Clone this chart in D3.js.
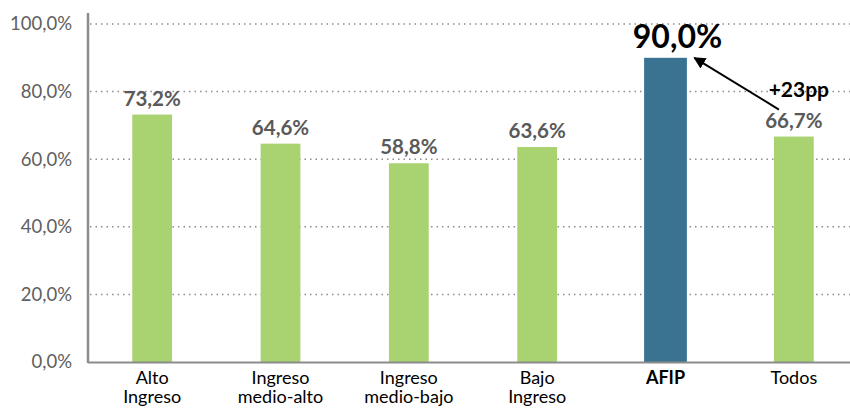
<!DOCTYPE html>
<html>
<head>
    <script src="https://d3js.org/d3.v7.min.js"></script>
    <style>
        body { margin: 0; background: #fff; }
        svg { font-family: 'Lato', 'Open Sans', sans-serif; }
    </style>
</head>
<body>
    <script>
        // data
        const categories = [["Alto", "Ingreso"], ["Ingreso", "medio-alto"], ["Ingreso", "medio-bajo"],
            ["Bajo", "Ingreso"], ["AFIP"], ["Todos"]];
        const values = [73.2, 64.6, 58.8, 63.6, 90.0, 66.7];
        const highlight = [false, false, false, false, true, false];
        const yTicks = [0, 20, 40, 60, 80, 100];
        const annotation = "+23pp";

        const width = 850, height = 410;
        const margin = {top: 24, right: -8, bottom: 48, left: 88};

        const fmt = v => v.toFixed(1).replace('.', ',') + '%';

        const svg = d3.select('body').append('svg')
            .attr('width', width)
            .attr('height', height);

        const x = d3.scaleBand()
            .domain(d3.range(values.length))
            .range([margin.left, width - margin.right])
            .paddingInner(0.69)
            .paddingOuter(0.345);

        const y = d3.scaleLinear()
            .domain([0, 100])
            .range([height - margin.bottom, margin.top]);

        // gridlines
        svg.append('g')
            .selectAll('line')
            .data(yTicks.filter(d => d > 0))
            .join('line')
            .attr('x1', margin.left + 2)
            .attr('x2', width)
            .attr('y1', d => y(d))
            .attr('y2', d => y(d))
            .attr('stroke', '#8c8c8c')
            .attr('stroke-width', 1.5)
            .attr('stroke-dasharray', '1.5,4');

        // y axis
        const yAxis = svg.append('g')
            .attr('transform', `translate(${margin.left},0)`)
            .call(d3.axisLeft(y).tickValues(yTicks).tickSize(0).tickPadding(16).tickFormat(fmt));
        yAxis.select('.domain').remove();
        yAxis.selectAll('text')
            .attr('fill', '#606060')
            .style('font-size', '18.5px')
            .style('font-family', "'Lato', sans-serif");

        svg.append('line')
            .attr('x1', margin.left).attr('x2', margin.left)
            .attr('y1', 13).attr('y2', y(0) + 1)
            .attr('stroke', '#8c8c8c').attr('stroke-width', 2.5);

        // bars
        svg.append('g')
            .selectAll('rect')
            .data(values)
            .join('rect')
            .attr('x', (d, i) => x(i) + (highlight[i] ? -1.5 : 0))
            .attr('width', (d, i) => x.bandwidth() + (highlight[i] ? 3 : 0))
            .attr('y', d => y(d))
            .attr('height', d => y(0) - y(d))
            .attr('fill', (d, i) => highlight[i] ? '#3a7391' : '#a9d270');

        // baseline
        svg.append('line')
            .attr('x1', margin.left).attr('x2', width)
            .attr('y1', y(0) + 0.5).attr('y2', y(0) + 0.5)
            .attr('stroke', '#8c8c8c').attr('stroke-width', 2);

        // value labels
        svg.append('g')
            .selectAll('text')
            .data(values)
            .join('text')
            .attr('x', (d, i) => x(i) + x.bandwidth() / 2 + (highlight[i] ? 12 : 0))
            .attr('y', (d, i) => y(d) - (highlight[i] ? 10 : 9))
            .attr('text-anchor', 'middle')
            .attr('fill', (d, i) => highlight[i] ? '#000' : '#595959')
            .style('font-weight', 'bold')
            .style('font-size', (d, i) => highlight[i] ? '32px' : '20.5px')
            .text(fmt);

        // category labels
        const cat = svg.append('g')
            .selectAll('text')
            .data(categories)
            .join('text')
            .attr('x', (d, i) => x(i) + x.bandwidth() / 2)
            .attr('y', y(0) + 22)
            .attr('text-anchor', 'middle')
            .attr('fill', '#000')
            .style('font-size', '18px')
            .style('font-weight', (d, i) => highlight[i] ? 'bold' : 'normal');
        cat.selectAll('tspan')
            .data(d => d)
            .join('tspan')
            .attr('x', function () { return this.parentNode.getAttribute('x'); })
            .attr('dy', (d, i) => i ? 19 : 0)
            .text(d => d);

        // arrow annotation
        const iHi = highlight.indexOf(true), iAll = values.length - 1;
        svg.append('defs').append('marker')
            .attr('id', 'arrowhead')
            .attr('viewBox', '0 0 10 10')
            .attr('refX', 9).attr('refY', 5)
            .attr('markerWidth', 6).attr('markerHeight', 6)
            .attr('orient', 'auto')
            .append('path')
            .attr('d', 'M0,0 L10,5 L0,10 z')
            .attr('fill', '#000');

        svg.append('line')
            .attr('x1', x(iAll) + 5).attr('y1', y(values[iAll]) - 27)
            .attr('x2', x(iHi) + x.bandwidth() + 9).attr('y2', y(values[iHi]) + 0)
            .attr('stroke', '#000').attr('stroke-width', 2)
            .attr('marker-end', 'url(#arrowhead)');

        svg.append('text')
            .attr('x', x(iAll) + x.bandwidth() / 2 + 5)
            .attr('y', y(values[iAll]) - 40)
            .attr('text-anchor', 'middle')
            .style('font-weight', 'bold')
            .style('font-size', '21px')
            .text(annotation);
    </script>
</body>
</html>
